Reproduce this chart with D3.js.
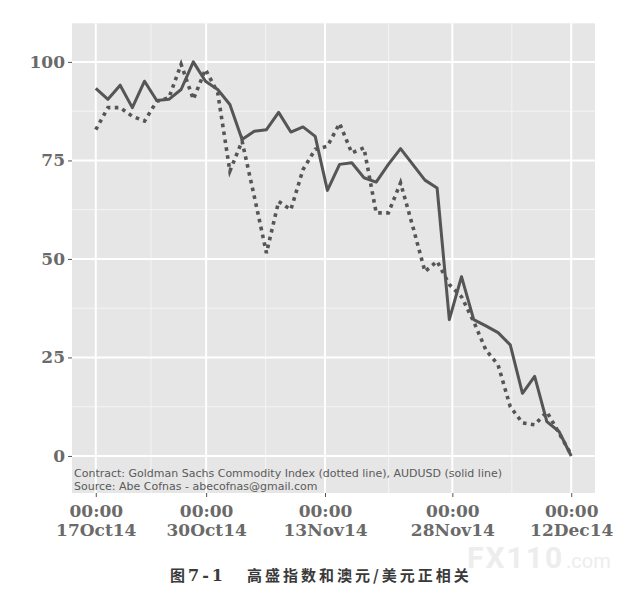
<!DOCTYPE html>
<html>
<head>
<meta charset="utf-8">
<script src="https://cdn.jsdelivr.net/npm/d3@7"></script>
<style>
  html, body { margin: 0; padding: 0; background: #ffffff; }
  svg { display: block; }
</style>
</head>
<body>
<svg id="chart" width="644" height="602"></svg>
<script>
// ---- data ----
const dates = [
  "2014-10-17T00:00","2014-10-18T10:28","2014-10-19T20:55","2014-10-21T07:23","2014-10-22T17:51",
  "2014-10-24T04:18","2014-10-25T14:46","2014-10-27T01:14","2014-10-28T11:41","2014-10-29T22:09",
  "2014-10-31T08:37","2014-11-01T19:05","2014-11-03T05:32","2014-11-04T16:00","2014-11-06T02:28",
  "2014-11-07T12:55","2014-11-08T23:23","2014-11-10T09:51","2014-11-11T20:18","2014-11-13T06:46",
  "2014-11-14T17:14","2014-11-16T03:41","2014-11-17T14:09","2014-11-19T00:37","2014-11-20T11:05",
  "2014-11-21T21:32","2014-11-23T08:00","2014-11-24T18:28","2014-11-26T04:55","2014-11-27T15:23",
  "2014-11-29T01:51","2014-11-30T12:18","2014-12-01T22:46","2014-12-03T09:14","2014-12-04T19:41",
  "2014-12-06T06:09","2014-12-07T16:37","2014-12-09T03:05","2014-12-10T13:32","2014-12-12T00:00"
];
// AUDUSD (solid line), rescaled 0-100
const audusd = [
  93.3, 90.5, 94.1, 88.4, 95.1, 90.2, 90.5, 93.0, 100.0, 95.1,
  93.0, 89.2, 80.3, 82.4, 82.8, 87.2, 82.2, 83.5, 81.1, 67.4,
  74.0, 74.4, 70.6, 69.5, 74.0, 78.0, 74.0, 70.0, 68.0, 34.6,
  45.5, 34.6, 33.0, 31.3, 28.2, 15.9, 20.2, 8.7, 6.2, 0.0
];
// Goldman Sachs Commodity Index (dotted line), rescaled 0-100
const gsci = [
  82.8, 88.4, 88.4, 86.2, 85.0, 90.0, 90.9, 99.4, 90.5, 98.1,
  92.2, 72.3, 79.9, 65.9, 51.5, 64.6, 62.5, 72.7, 77.8, 78.6,
  84.4, 76.9, 78.2, 61.7, 61.7, 69.3, 58.3, 46.8, 49.4, 43.5,
  40.4, 34.1, 26.9, 23.1, 12.5, 8.4, 7.9, 11.2, 5.8, 0.3
];
const xTickDates = ["2014-10-17T00:00","2014-10-30T00:00","2014-11-13T00:00","2014-11-28T00:00","2014-12-12T00:00"];
const xTickTop = ["00:00","00:00","00:00","00:00","00:00"];
const xTickBottom = ["17Oct14","30Oct14","13Nov14","28Nov14","12Dec14"];
const yTicks = [0, 25, 50, 75, 100];
const yMinor = [12.5, 37.5, 62.5, 87.5];
const noteLines = [
  "Contract: Goldman Sachs Commodity Index (dotted line), AUDUSD (solid line)",
  "Source: Abe Cofnas - abecofnas@gmail.com"
];
const captionFig = "图";
const captionNum = "7-1";
const captionText = "高盛指数和澳元/美元正相关";

// ---- setup ----
const parse = d3.timeParse("%Y-%m-%dT%H:%M");
const t0 = parse(dates[0]), t1 = parse(dates[dates.length - 1]);
const pad = (t1 - t0) * 0.05;

const panel = { left: 72, right: 595, top: 23.3, bottom: 493 };
const x = d3.scaleTime()
  .domain([new Date(+t0 - pad), new Date(+t1 + pad)])
  .range([panel.left, panel.right]);
const y = d3.scaleLinear()
  .domain([-9.4, 109.8])
  .range([panel.bottom, panel.top]);

const svg = d3.select("#chart");
const ink = "#555555";
const textGray = "#6a6a6a";

// watermark (behind everything)
const wm = svg.append("g").attr("fill", "#ededed");
wm.append("text").attr("x", 467).attr("y", 568)
  .attr("font-family", "Roboto, sans-serif").attr("font-weight", "bold")
  .attr("font-size", 30).attr("letter-spacing", 2).text("FX110");
wm.append("text").attr("x", 566).attr("y", 568)
  .attr("font-family", "Roboto, sans-serif")
  .attr("font-size", 20).text(".com");

// panel background
svg.append("rect")
  .attr("x", panel.left).attr("y", panel.top)
  .attr("width", panel.right - panel.left)
  .attr("height", panel.bottom - panel.top)
  .attr("fill", "#e6e6e6");

// grid
const xMajor = xTickDates.map(parse);
const xMinorDates = d3.pairs(xMajor).map(([a, b]) => new Date((+a + +b) / 2));
const grid = svg.append("g");
grid.selectAll(".ymin").data(yMinor).join("line")
  .attr("x1", panel.left).attr("x2", panel.right)
  .attr("y1", d => y(d)).attr("y2", d => y(d))
  .attr("stroke", "#f4f4f4").attr("stroke-width", 1);
grid.selectAll(".xmin").data(xMinorDates).join("line")
  .attr("y1", panel.top).attr("y2", panel.bottom)
  .attr("x1", d => x(d)).attr("x2", d => x(d))
  .attr("stroke", "#f4f4f4").attr("stroke-width", 1);
grid.selectAll(".ymaj").data(yTicks).join("line")
  .attr("x1", panel.left).attr("x2", panel.right)
  .attr("y1", d => y(d)).attr("y2", d => y(d))
  .attr("stroke", "#ffffff").attr("stroke-width", 2);
grid.selectAll(".xmaj").data(xMajor).join("line")
  .attr("y1", panel.top).attr("y2", panel.bottom)
  .attr("x1", d => x(d)).attr("x2", d => x(d))
  .attr("stroke", "#ffffff").attr("stroke-width", 2);

// lines
const pts = dates.map(parse);
const lineGen = d3.line().x(d => x(d[0])).y(d => y(d[1]));
svg.append("path")
  .datum(pts.map((d, i) => [d, gsci[i]]))
  .attr("d", lineGen)
  .attr("fill", "none")
  .attr("stroke", ink)
  .attr("stroke-width", 3.6)
  .attr("stroke-dasharray", "3.6,4.4");
svg.append("path")
  .datum(pts.map((d, i) => [d, audusd[i]]))
  .attr("d", lineGen)
  .attr("fill", "none")
  .attr("stroke", ink)
  .attr("stroke-width", 3)
  .attr("stroke-linejoin", "round");

// annotation text inside panel
svg.append("g").selectAll("text").data(noteLines).join("text")
  .attr("x", panel.left + 2)
  .attr("y", (d, i) => 477 + i * 13)
  .attr("font-family", "DejaVu Sans, Verdana, sans-serif")
  .attr("font-size", 11)
  .attr("fill", "#5a5a5a")
  .text(d => d);

// y axis
const yAxis = d3.axisLeft(y).tickValues(yTicks).tickSize(4).tickPadding(3).tickFormat(d3.format("d"));
const gy = svg.append("g").attr("transform", `translate(${panel.left},0)`).call(yAxis);
gy.select(".domain").remove();
gy.selectAll(".tick line").attr("stroke", ink);
gy.selectAll(".tick text")
  .attr("font-family", "DejaVu Serif, serif")
  .attr("font-weight", "bold")
  .attr("font-size", 17)
  .attr("fill", textGray);

// x axis
const xAxis = d3.axisBottom(x).tickValues(xMajor).tickSize(4).tickFormat(() => "");
const gx = svg.append("g").attr("transform", `translate(0,${panel.bottom})`).call(xAxis);
gx.select(".domain").remove();
gx.selectAll(".tick line").attr("stroke", ink);
gx.selectAll(".tick text").each(function(d, i) {
  const t = d3.select(this)
    .attr("font-family", "DejaVu Serif, serif")
    .attr("font-weight", "bold")
    .attr("font-size", 17)
    .attr("fill", textGray)
    .attr("y", 0).attr("dy", null);
  t.append("tspan").attr("x", 0).attr("y", 24).text(xTickTop[i]);
  t.append("tspan").attr("x", 0).attr("y", 43).text(xTickBottom[i]);
});

// caption
const cap = svg.append("text")
  .attr("y", 581)
  .attr("fill", "#3a3a3a")
  .attr("font-weight", "bold");
cap.append("tspan").attr("x", 170).attr("font-size", 15)
  .attr("font-family", "Noto Sans CJK SC").text(captionFig);
cap.append("tspan").attr("x", 188).attr("font-size", 16).attr("letter-spacing", 3)
  .attr("font-family", "DejaVu Serif, serif").text(captionNum);
cap.append("tspan").attr("x", 247).attr("font-size", 15)
  .attr("font-family", "Noto Sans CJK SC")
  .attr("letter-spacing", 3).text(captionText);
</script>
</body>
</html>
